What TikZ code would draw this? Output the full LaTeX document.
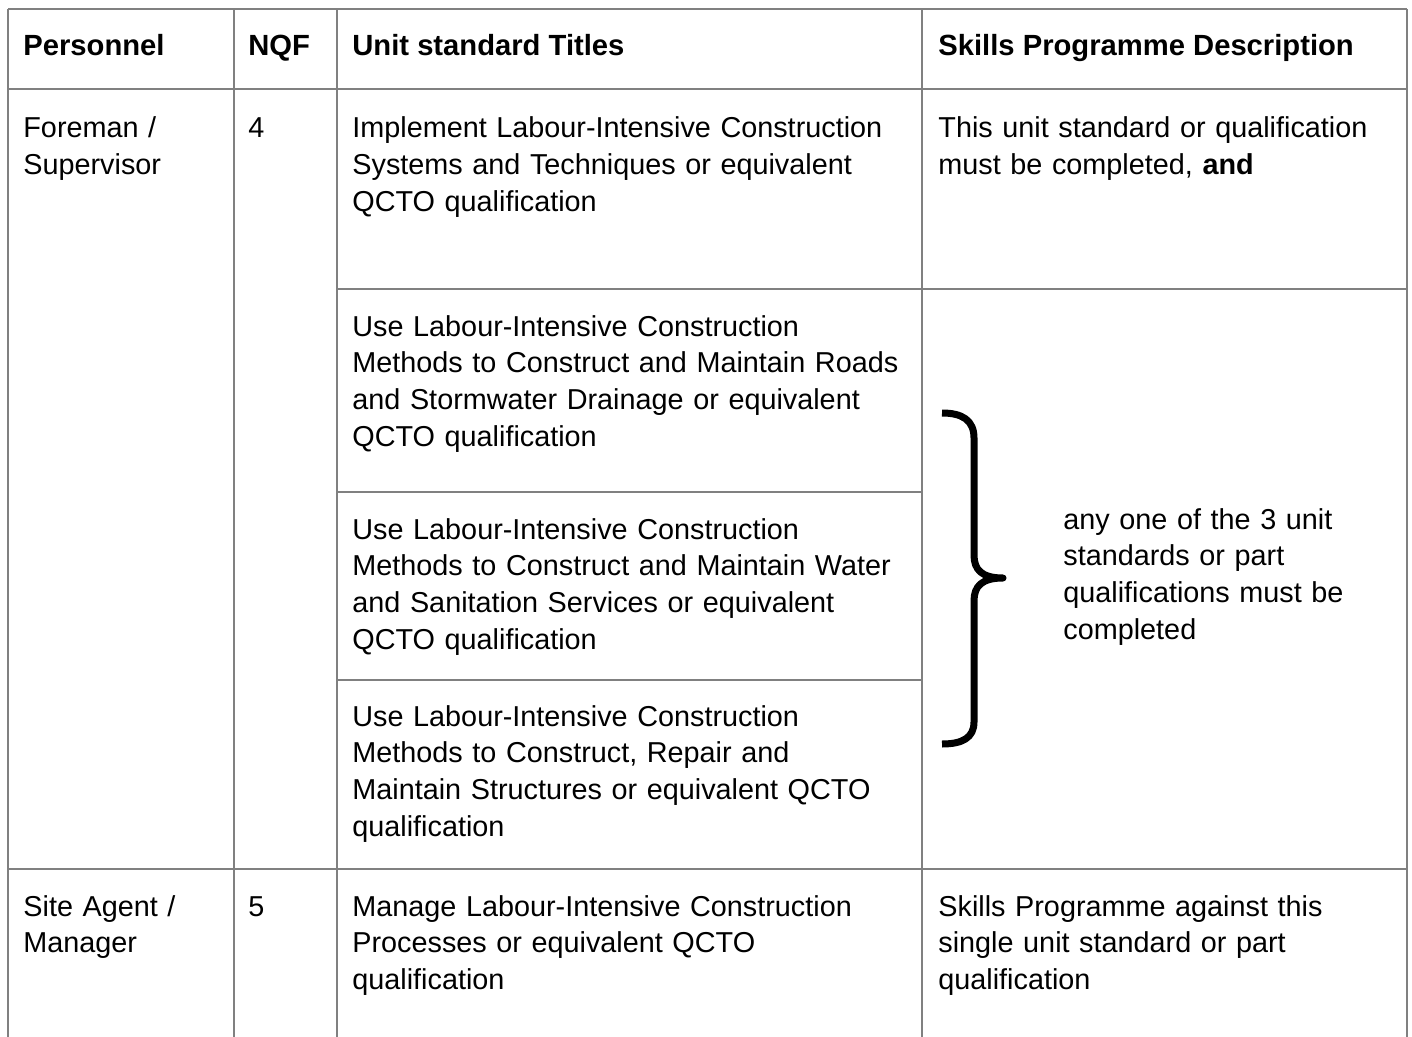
\documentclass[tikz,border=0pt]{standalone}
\usepackage{fontspec}
\setmainfont{Liberation Sans}
\usepackage{tikz}

\begin{document}
\begin{tikzpicture}[x=0.5pt, y=-0.5pt,
    rule/.style={draw=gray, line width=1pt},
    cell/.style={anchor=base west, inner sep=0pt, align=left, font=\fontsize{14.4}{18.35}\selectfont},
    head/.style={cell, font=\fontsize{14.6}{18.35}\selectfont\bfseries}]
    \useasboundingbox (0,0) rectangle (1412,1037);
    % table rules
    \draw[rule] (8,9) -- (1407,9);
    \draw[rule] (8,89) -- (1407,89);
    \draw[rule] (337,289) -- (1407,289);
    \draw[rule] (337,492) -- (922,492);
    \draw[rule] (337,680) -- (922,680);
    \draw[rule] (8,869) -- (1407,869);
    \foreach \x in {8,234,337,922,1407}
        \draw[rule] (\x,9) -- (\x,1037);
    % header
    \node[head] (hPers) at (23,56) {Personnel};
    \node[head] (hNqf) at (248,56) {NQF};
    \node[head] (hUnit) at (352,56) {Unit standard Titles};
    \node[head] (hDesc) at (938,56) {Skills Programme Description};
    % foreman row
    \node[cell, text width=100pt] (foreman) at (23,138) {Foreman /\\Supervisor};
    \node[cell] (nqfFour) at (248,138) {4};
    \node[cell, text width=285pt] (unitA) at (352,138) {Implement Labour-Intensive Construction\\Systems and Techniques or equivalent\\QCTO qualification};
    \node[cell, text width=235pt] (descA) at (938,138) {This unit standard or qualification\\must be completed, \textbf{and}};
    \node[cell, text width=285pt] (unitB) at (352,336) {Use Labour-Intensive Construction\\Methods to Construct and Maintain Roads\\and Stormwater Drainage or equivalent\\QCTO qualification};
    \node[cell, text width=285pt] (unitC) at (352,539) {Use Labour-Intensive Construction\\Methods to Construct and Maintain Water\\and Sanitation Services or equivalent\\QCTO qualification};
    \node[cell, text width=285pt] (unitD) at (352,726) {Use Labour-Intensive Construction\\Methods to Construct, Repair and\\Maintain Structures or equivalent QCTO\\qualification};
    % brace and its note
    \draw[line width=3.5pt, line join=round] (942,413) .. controls (962,413) and (974,420) .. (974,438) -- (974,555) .. controls (974,570) and (982,578) .. (1003,578) .. controls (982,578) and (974,586) .. (974,601) -- (974,722) .. controls (974,738) and (962,744) .. (942,744);
    \node[cell, text width=165pt] (anyOne) at (1063,529) {any one of the 3 unit\\standards or part\\qualifications must be\\completed};
    % site agent row
    \node[cell, text width=100pt] (siteAgent) at (23,916) {Site Agent /\\Manager};
    \node[cell] (nqfFive) at (248,916) {5};
    \node[cell, text width=285pt] (unitE) at (352,916) {Manage Labour-Intensive Construction\\Processes or equivalent QCTO\\qualification};
    \node[cell, text width=235pt] (descE) at (938,916) {Skills Programme against this\\single unit standard or part\\qualification};
\end{tikzpicture}
\end{document}
